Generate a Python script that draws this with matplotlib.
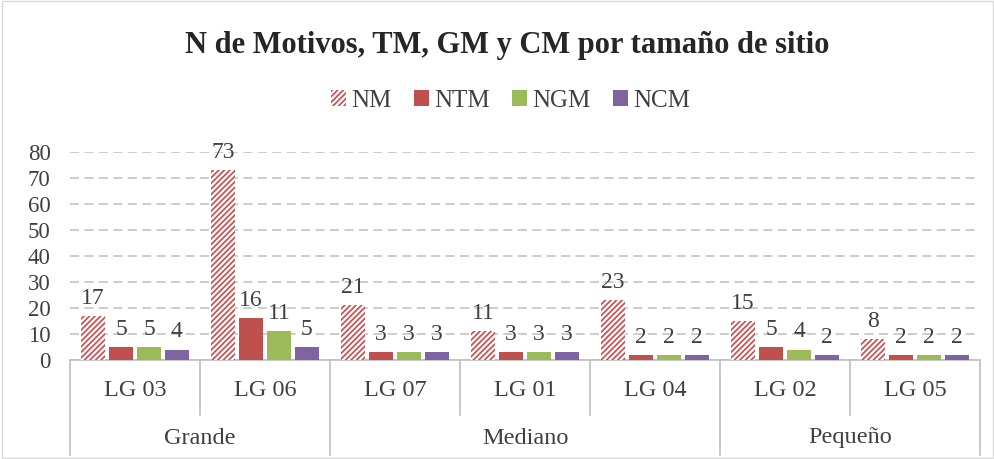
import matplotlib
matplotlib.use("Agg")
import matplotlib.pyplot as plt
import matplotlib.transforms as mtransforms
from matplotlib.patches import Rectangle
import numpy as np

plt.rcParams['font.family'] = ['Liberation Serif', 'DejaVu Serif']
plt.rcParams['hatch.linewidth'] = 1.2

sites = ["LG 03", "LG 06", "LG 07", "LG 01", "LG 04", "LG 02", "LG 05"]
groups = ["Grande", "Mediano", "Pequeño"]
group_sizes = [2, 3, 2]
series_names = ["NM", "NTM", "NGM", "NCM"]
NM = [17, 73, 21, 11, 23, 15, 8]
NTM = [5, 16, 3, 3, 2, 5, 2]
NGM = [5, 11, 3, 3, 2, 4, 2]
NCM = [4, 5, 3, 3, 2, 2, 2]
yticks = [0, 10, 20, 30, 40, 50, 60, 70, 80]

W, H = 995, 459
fig = plt.figure(figsize=(W / 100, H / 100), dpi=100)
ax = fig.add_axes([70 / W, (H - 360) / H, 910 / W, 208 / H])

x = np.arange(len(sites))
spacing = 0.215
bw = 0.185
colors = [None, "#C0504D", "#9BBB59", "#8064A2"]
data = [NM, NTM, NGM, NCM]
for i, (name, vals) in enumerate(zip(series_names, data)):
    xs = x + (i - 1.5) * spacing
    if i == 0:
        ax.bar(xs, vals, bw, facecolor="white", edgecolor="#D0484A",
               hatch="//////", linewidth=0, label=name, zorder=3)
    else:
        ax.bar(xs, vals, bw, color=colors[i], label=name, zorder=3)
    for xi, v in zip(xs, vals):
        ax.text(xi, v + 2.8, str(v), ha="center", va="bottom", fontsize=17,
                color="#404040", zorder=4)

ax.set_xlim(-0.5, len(sites) - 0.5)
ax.set_ylim(0, 80)
ax.set_yticks(yticks)
ax.set_yticklabels([str(t) for t in yticks], fontsize=16.5, color="#404040")
ax.tick_params(axis="y", length=0, pad=14)
ax.set_xticks([])
ax.yaxis.grid(True, color="#C8C8C8", linestyle=(0, (5, 3)), linewidth=1.3, zorder=0)
for s in ["top", "right", "left"]:
    ax.spines[s].set_visible(False)
ax.spines["bottom"].set_color("#BFBFBF")
ax.spines["bottom"].set_linewidth(1.2)

trans = mtransforms.blended_transform_factory(ax.transData, ax.transAxes)
row1 = -55 / 208
row2 = -95 / 208
for xi, s in zip(x, sites):
    ax.text(xi, -31 / 208, s, transform=trans, ha="center", va="center",
            fontsize=17.5, color="#404040")
bounds = np.arange(len(sites) + 1) - 0.5
group_edges = np.concatenate([[0], np.cumsum(group_sizes)]) - 0.5
for b in bounds:
    bottom = row2 if np.any(np.isclose(group_edges, b)) else row1
    ax.plot([b, b], [0, bottom], transform=trans, color="#BFBFBF", lw=1.2,
            clip_on=False)
for gi, g in enumerate(groups):
    c = (group_edges[gi] + group_edges[gi + 1]) / 2
    ax.text(c, -78 / 208, g, transform=trans, ha="center", va="center",
            fontsize=17.5, color="#404040")

fig.text(0.51, 1 - 45 / H, "N de Motivos, TM, GM y CM por tamaño de sitio",
         ha="center", va="center", fontsize=22, fontweight="bold", color="#262626")

fig.legend(loc="center", bbox_to_anchor=(0.513, 1 - 101 / H), ncol=4,
           frameon=False, fontsize=18, handlelength=0.6, handleheight=0.6,
           columnspacing=0.9, handletextpad=0.2, labelcolor="#404040")

fig.patches.append(Rectangle((0.002, 0.003), 0.996, 0.994, transform=fig.transFigure,
                             fill=False, edgecolor="#D9D9D9", linewidth=1))

fig.savefig("out.png", dpi=100)
